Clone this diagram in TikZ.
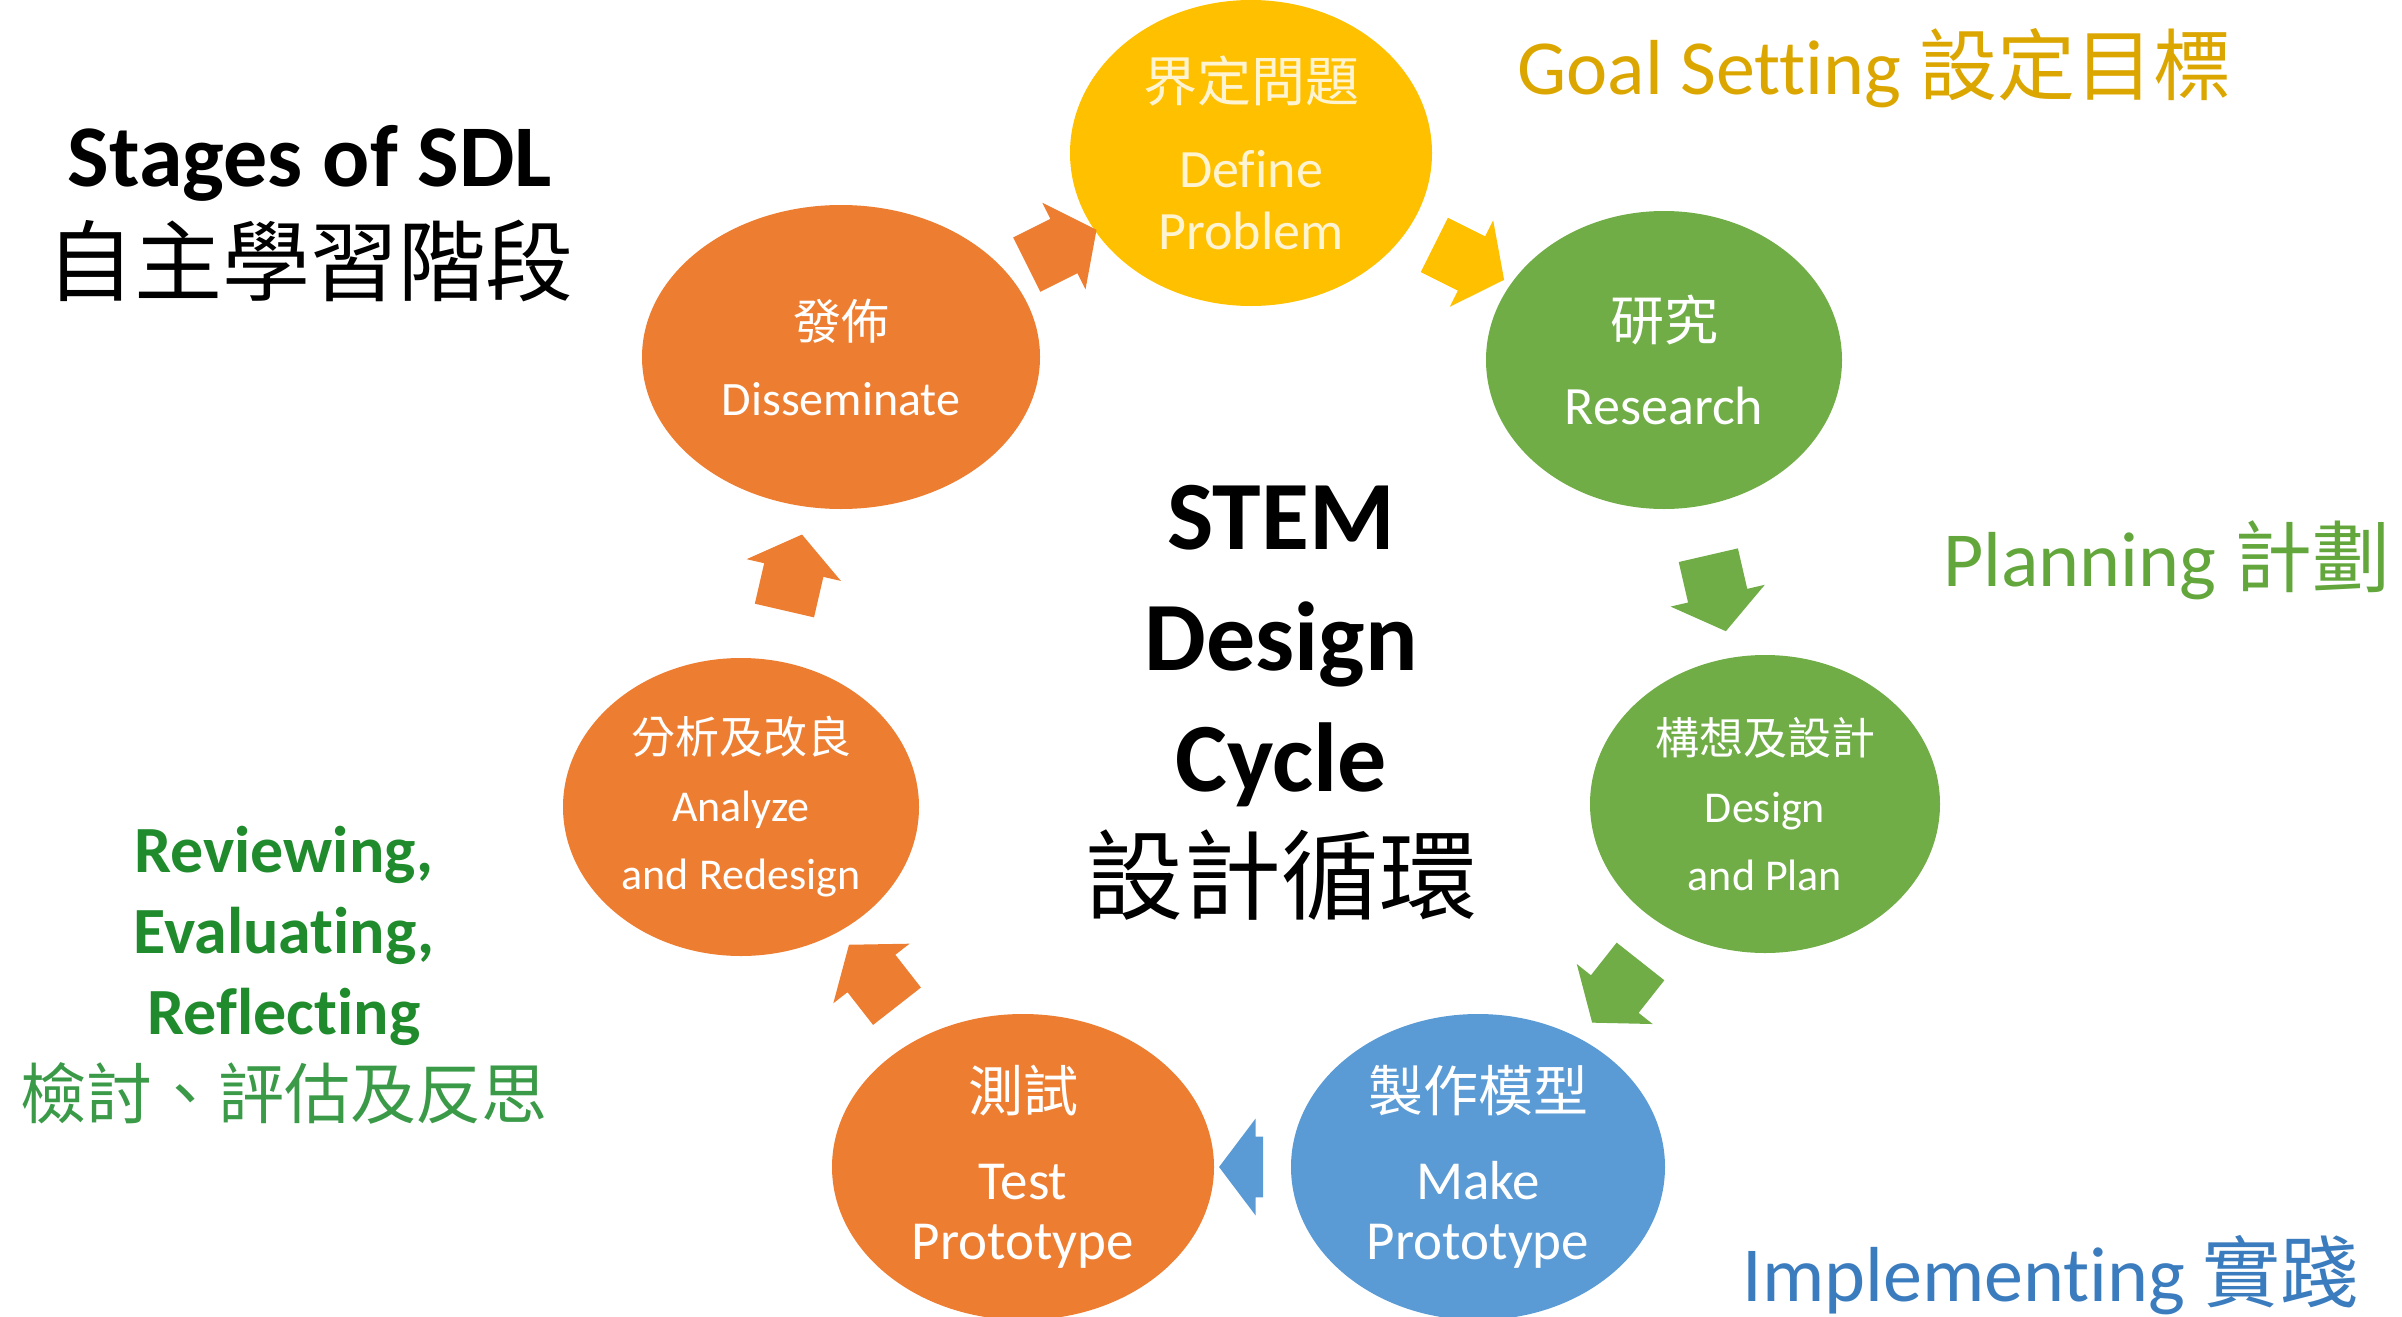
\documentclass[tikz,border=0pt]{standalone}
\usepackage{fontspec}
\setmainfont{Carlito}[Ligatures=NoCommon]
\newfontfamily\cjk{Noto Sans CJK TC}
\usetikzlibrary{shapes.geometric,shapes.arrows}

\definecolor{cyellow}{HTML}{FFC000}
\definecolor{cgreen}{HTML}{70AD47}
\definecolor{cblue}{HTML}{5B9BD5}
\definecolor{corange}{HTML}{ED7D31}
\definecolor{cream}{HTML}{FFF4D2}
\definecolor{goaltxt}{HTML}{DCA600}
\definecolor{plantxt}{HTML}{62A63C}
\definecolor{impltxt}{HTML}{3B7CBE}
\definecolor{revtxt}{HTML}{1F8B2C}
\definecolor{revcjk}{HTML}{3A9A48}

\newcommand{\fs}[2]{\fontsize{#1}{#2}\selectfont}

\tikzset{every picture/.style={line width=0.75pt}}
\tikzset{
  stage/.style={ellipse, draw=none, text=white, align=center, inner sep=0pt},
  cyclearrow/.style={single arrow, draw=none, fill=#1, inner xsep=0pt, inner ysep=30pt,
    single arrow head extend=18pt, single arrow tip angle=106, minimum height=78pt}
}

\begin{document}
\begin{tikzpicture}[x=1pt,y=1pt,yscale=-1,xscale=1]
    \useasboundingbox (0,0) rectangle (2402,1317);
    %Ellipse: Define Problem
    \node [stage, fill=cyellow, text=cream, minimum width=362pt, minimum height=306pt, font=\fs{54}{62}] (def) at (1251,153) {{\cjk 界定問題}\\[24pt]Define\\Problem};
    %Ellipse: Research
    \node [stage, fill=cgreen, minimum width=356pt, minimum height=298pt, font=\fs{54}{62}] (res) at (1664,360) {{\cjk 研究}\\[22pt]Research};
    %Ellipse: Design and Plan
    \node [stage, fill=cgreen, minimum width=350pt, minimum height=298pt, font=\fs{44}{68}] (dsn) at (1765,804) {{\cjk 構想及設計}\\Design\\and Plan};
    %Ellipse: Make Prototype
    \node [stage, fill=cblue, minimum width=374pt, minimum height=306pt, font=\fs{55}{60}] (mak) at (1478,1167) {{\cjk 製作模型}\\[28pt]Make\\Prototype};
    %Ellipse: Test Prototype
    \node [stage, fill=corange, minimum width=382pt, minimum height=306pt, font=\fs{55}{60}] (tst) at (1023,1167) {{\cjk 測試}\\[28pt]Test\\Prototype};
    %Ellipse: Analyze and Redesign
    \node [stage, fill=corange, minimum width=356pt, minimum height=298pt, font=\fs{44}{68}] (ana) at (741,807) {{\cjk 分析及改良}\\Analyze\\and Redesign};
    %Ellipse: Disseminate
    \node [stage, fill=corange, minimum width=398pt, minimum height=304pt, font=\fs{48}{56}] (dis) at (841,357) {{\cjk 發佈}\\[20pt]Disseminate};

    %Block Arrows
    \path (dis) -- node [cyclearrow=corange, rotate=26.5] (a1) {} (def);
    \path (def) -- node [cyclearrow=cyellow, rotate=-26.6] (a2) {} (res);
    \path (res) -- node [cyclearrow=cgreen, rotate=-77] (a3) {} (dsn);
    \path (dsn) -- node [cyclearrow=cgreen, rotate=231.7] (a4) {} (mak);
    \path (mak) -- node [cyclearrow=cblue, rotate=180, minimum height=44pt] (a5) {} (tst);
    \path (tst) -- node [cyclearrow=corange, rotate=128] (a6) {} (ana);
    \path (ana) -- node [cyclearrow=corange, rotate=77] (a7) {} (dis);

    % Text Node
    \node [align=center, font=\fs{98}{121}] (cycle) at (1281,703) {\textbf{STEM}\\\textbf{Design}\\\textbf{Cycle}\\{\cjk 設計循環}};
    % Text Node
    \node [align=center, font=\fs{88}{108}] (sdl) at (310,214) {\textbf{Stages of SDL}\\{\cjk 自主學習階段}};
    % Text Node
    \node [anchor=base west, inner sep=0pt, text=goaltxt, font=\fs{78}{90}] (goal) at (1517,94) {Goal Setting {\cjk 設定目標}};
    % Text Node
    \node [anchor=base west, inner sep=0pt, text=plantxt, font=\fs{78}{90}] (plan) at (1943,586) {Planning {\cjk 計劃}};
    % Text Node
    \node [anchor=base west, inner sep=0pt, text=impltxt, font=\fs{78}{90}] (impl) at (1742,1301) {Implementing {\cjk 實踐}};
    % Text Node
    \node [align=center, text=revtxt, font=\fs{66}{81}] (rev) at (284,975) {\textbf{Reviewing,}\\\textbf{Evaluating,}\\\textbf{Reflecting}\\[3pt]{\color{revcjk}\cjk 檢討、評估及反思}};
\end{tikzpicture}
\end{document}
